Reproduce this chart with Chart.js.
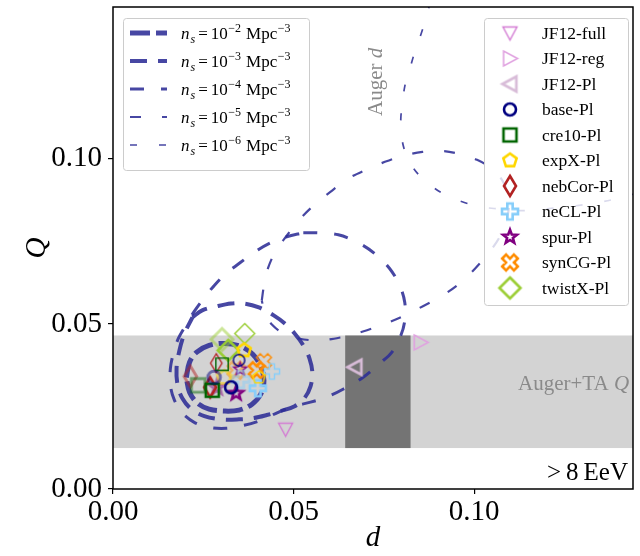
<!DOCTYPE html>
<html>
<head>
<meta charset="utf-8">
<title>d - Q plane</title>
<script src="https://cdn.jsdelivr.net/npm/chart.js@4.4.1/dist/chart.umd.min.js"></script>
<style>
  html, body { margin: 0; padding: 0; background: #fff; }
  #wrap { width: 640px; height: 556px; }
</style>
</head>
<body>
<div id="wrap"><canvas id="chart" width="640" height="556"></canvas></div>
<script>
// axis ranges and ticks
const dLim = [0, 0.144];
const qLim = [0, 0.146];
const dTicks = [0, 0.05, 0.10];
const qTicks = [0, 0.05, 0.10];

// measured bands
const augerTaQ = [0.0124, 0.0465];
const augerD = [0.0643, 0.0824];

// contours, one pair per source density (exponent of n_s)
const nsExp = [-2, -3, -4, -5, -6];
const ns2_d = [0.0203,0.0212,0.0231,0.0266,0.0310,0.0354,0.0387,0.0409,0.0418,0.0409,0.0385,0.0349,0.0310,0.0266,0.0234,0.0212,0.0203];
const ns2_q = [0.0338,0.0384,0.0414,0.0435,0.0441,0.0432,0.0408,0.0372,0.0329,0.0287,0.0257,0.0239,0.0236,0.0242,0.0260,0.0293,0.0338];
const ns3_d = [0.0220,0.0247,0.0286,0.0327,0.0363,0.0404,0.0445,0.0475,0.0503,0.0527,0.0544,0.0552,0.0547,0.0530,0.0503,0.0464,0.0426,0.0390,0.0349,0.0299,0.0253,0.0217,0.0192,0.0179,0.0176,0.0184,0.0198,0.0220];
const ns3_q = [0.0520,0.0541,0.0553,0.0562,0.0562,0.0550,0.0526,0.0502,0.0471,0.0435,0.0396,0.0353,0.0311,0.0275,0.0251,0.0236,0.0224,0.0215,0.0211,0.0211,0.0221,0.0242,0.0275,0.0314,0.0366,0.0420,0.0471,0.0520];
const ns4_d = [0.0527,0.0569,0.0624,0.0679,0.0725,0.0766,0.0794,0.0808,0.0808,0.0797,0.0772,0.0739,0.0692,0.0637,0.0591,0.0547,0.0503,0.0459,0.0409,0.0363,0.0313,0.0266,0.0225,0.0192,0.0170,0.0159,0.0159,0.0168,0.0181,0.0201,0.0225,0.0253,0.0280,0.0310,0.0349,0.0390,0.0437,0.0481,0.0527];
const ns4_q = [0.0776,0.0776,0.0770,0.0746,0.0713,0.0668,0.0616,0.0565,0.0511,0.0465,0.0414,0.0381,0.0338,0.0302,0.0278,0.0263,0.0251,0.0233,0.0208,0.0193,0.0184,0.0187,0.0202,0.0230,0.0269,0.0314,0.0366,0.0414,0.0456,0.0495,0.0538,0.0580,0.0616,0.0650,0.0683,0.0716,0.0746,0.0764,0.0776];
const ns5_d = [0.0412,0.0418,0.0429,0.0451,0.0481,0.0514,0.0555,0.0602,0.0651,0.0701,0.0753,0.0802,0.0857,0.0912,0.0959,0.1008,0.1049,0.1080,0.1096,0.1091,0.1071,0.1041,0.1003,0.0959,0.0912,0.0857,0.0802,0.0747,0.0692,0.0629,0.0569,0.0514,0.0473,0.0440,0.0420,0.0412];
const ns5_q = [0.0571,0.0616,0.0668,0.0722,0.0767,0.0813,0.0858,0.0900,0.0940,0.0967,0.0991,0.1009,0.1021,0.1024,0.1015,0.0997,0.0970,0.0931,0.0879,0.0819,0.0764,0.0716,0.0668,0.0622,0.0586,0.0553,0.0523,0.0498,0.0477,0.0459,0.0450,0.0456,0.0471,0.0498,0.0535,0.0571];
const ns6_d = [0.0879,0.0868,0.0854,0.0838,0.0824,0.0810,0.0802,0.0797,0.0799,0.0808,0.0824,0.0849,0.0885,0.0926,0.0967,0.1016,0.1063,0.1118,0.1173,0.1228,0.1283,0.1338,0.1393,0.1475];
const ns6_q = [0.1477,0.1432,0.1381,0.1332,0.1281,0.1230,0.1175,0.1121,0.1069,0.1024,0.0985,0.0949,0.0915,0.0888,0.0870,0.0855,0.0849,0.0843,0.0846,0.0852,0.0858,0.0867,0.0879,0.0903];

// JF12 models (one point each)
const jf12Names = ['JF12-full', 'JF12-reg', 'JF12-Pl'];
const jf12D = [0.0478, 0.0852, 0.0670];
const jf12Q = [0.0181, 0.0444, 0.0369];

// Pl models, three variants each
const plNames = ['base-Pl', 'cre10-Pl', 'expX-Pl', 'nebCor-Pl', 'neCL-Pl', 'spur-Pl', 'synCG-Pl', 'twistX-Pl'];
const plD_a = [0.0327, 0.0275, 0.0363, 0.0269, 0.0401, 0.0341, 0.0398, 0.0319];
const plQ_a = [0.0308, 0.0299, 0.0420, 0.0308, 0.0305, 0.0290, 0.0360, 0.0420];
const plD_b = [0.0349, 0.0302, 0.0404, 0.0286, 0.0440, 0.0352, 0.0418, 0.0365];
const plQ_b = [0.0390, 0.0378, 0.0338, 0.0381, 0.0356, 0.0363, 0.0387, 0.0471];
const plD_c = [0.0280, 0.0236, 0.0308, 0.0214, 0.0354, 0.0288, 0.0341, 0.0302];
const plQ_c = [0.0338, 0.0314, 0.0338, 0.0341, 0.0332, 0.0308, 0.0360, 0.0453];

// styles
const SERIF = '"Liberation Serif", "DejaVu Serif", serif';
const lineColor = 'rgba(45,45,150,0.88)';
const nsWidth = [5, 4, 3, 2.2, 1.7];
const nsDash = [[20, 6], [17, 11], [14, 17], [11, 21], [7, 22]];
const jf12Style = [['triDown', '#d37bd3', 7, 1.4], ['triRight', '#e0a2e0', 7.5, 1.6], ['triLeft', '#d8bcd8', 7.5, 2.7]];
const plStyle = [
  ['circle', '#000080', 6], ['square', '#006400', 6.5], ['pentagon', '#ffd700', 7], ['thinDiamond', '#b22222', 10],
  ['plus', '#87cefa', 8], ['star', '#800080', 7.2], ['xfill', '#ff8c00', 8.3], ['diamond', '#9acd32', 10.5]
];

function zip(xs, ys) { return xs.map((x, i) => ({ x: x, y: ys[i] })); }

function shapePath(g, shape, r) {
  let pts = [];
  if (shape === 'circle') { g.arc(0, 0, r, 0, Math.PI * 2); return; }
  if (shape === 'triDown') pts = [[0, r], [-r, -r * 0.85], [r, -r * 0.85]];
  if (shape === 'triRight') pts = [[r, 0], [-r * 0.85, -r], [-r * 0.85, r]];
  if (shape === 'triLeft') pts = [[-r, 0], [r * 0.85, -r], [r * 0.85, r]];
  if (shape === 'square') pts = [[-r, -r], [r, -r], [r, r], [-r, r]];
  if (shape === 'diamond') pts = [[0, -r], [r, 0], [0, r], [-r, 0]];
  if (shape === 'thinDiamond') pts = [[0, -r], [r * 0.6, 0], [0, r], [-r * 0.6, 0]];
  if (shape === 'pentagon') {
    for (let k = 0; k < 5; k++) { const a = -Math.PI / 2 + k * 2 * Math.PI / 5; pts.push([r * Math.cos(a), r * Math.sin(a)]); }
  }
  if (shape === 'star') {
    for (let k = 0; k < 10; k++) { const a = -Math.PI / 2 + k * Math.PI / 5; const rr = k % 2 ? r * 0.42 : r; pts.push([rr * Math.cos(a), rr * Math.sin(a)]); }
  }
  if (shape === 'plus' || shape === 'xfill') {
    const w = r / 3;
    const base = [[-w, -r], [w, -r], [w, -w], [r, -w], [r, w], [w, w], [w, r], [-w, r], [-w, w], [-r, w], [-r, -w], [-w, -w]];
    const rot = shape === 'xfill' ? Math.PI / 4 : 0;
    pts = base.map(p => [p[0] * Math.cos(rot) - p[1] * Math.sin(rot), p[0] * Math.sin(rot) + p[1] * Math.cos(rot)]);
  }
  g.moveTo(pts[0][0], pts[0][1]);
  for (let k = 1; k < pts.length; k++) g.lineTo(pts[k][0], pts[k][1]);
  g.closePath();
}

function marker(shape, color, r, lw, alpha) {
  const s = Math.ceil(2 * r + 2 * lw + 6);
  const c = document.createElement('canvas');
  c.width = s; c.height = s;
  const g = c.getContext('2d');
  g.translate(s / 2, s / 2);
  g.globalAlpha = alpha;
  g.strokeStyle = color;
  g.lineWidth = lw;
  g.lineJoin = 'miter';
  g.beginPath();
  shapePath(g, shape, r);
  g.stroke();
  return c;
}

const contours = [[ns2_d, ns2_q], [ns3_d, ns3_q], [ns4_d, ns4_q], [ns5_d, ns5_q], [ns6_d, ns6_q]];
const datasets = [];
const legendMarkers = [];

jf12Names.forEach((name, i) => {
  const st = jf12Style[i];
  const img = marker(st[0], st[1], st[2], st[3], 1);
  legendMarkers.push([name, img]);
  datasets.push({ label: name, data: [{ x: jf12D[i], y: jf12Q[i] }], pointStyle: img, pointRadius: 6, order: 1 });
});

plNames.forEach((name, i) => {
  const st = plStyle[i];
  const a = marker(st[0], st[1], st[2], 2.6, 1);
  const b = marker(st[0], st[1], st[2] * 0.95, 1.4, 1);
  const c = marker(st[0], st[1], st[2] * 1.05, 2.9, 0.5);
  legendMarkers.push([name, a]);
  datasets.push({
    label: name,
    data: [{ x: plD_a[i], y: plQ_a[i] }, { x: plD_b[i], y: plQ_b[i] }, { x: plD_c[i], y: plQ_c[i] }],
    pointStyle: [a, b, c], pointRadius: 6, order: 1
  });
});

contours.forEach((c, i) => {
  datasets.push({
    label: 'ns' + nsExp[i], data: zip(c[0], c[1]), showLine: true, pointRadius: 0,
    borderColor: lineColor, borderWidth: nsWidth[i], borderDash: nsDash[i], tension: 0.35, fill: false, order: 10
  });
});

function drawNs(ctx, x, y, e) {
  const parts = [
    ['n', 'italic 17px ' + SERIF, 0, 0], ['s', 'italic 12px ' + SERIF, 4, 1], ['=', '17px ' + SERIF, 0, 3], ['10', '17px ' + SERIF, 0, 3],
    ['\u2212' + (-e), '12px ' + SERIF, -7, 0.5], ['Mpc', '17px ' + SERIF, 0, 5], ['\u22123', '12px ' + SERIF, -7, 0.5]
  ];
  let cx = x;
  parts.forEach(p => {
    ctx.font = p[1];
    cx += p[3];
    ctx.fillText(p[0], cx, y + p[2]);
    cx += ctx.measureText(p[0]).width;
  });
}

const decor = {
  id: 'decor',
  beforeDatasetsDraw(chart) {
    const { ctx, chartArea: a, scales: { x, y } } = chart;
    ctx.save();
    const y0 = y.getPixelForValue(augerTaQ[1]), y1 = y.getPixelForValue(augerTaQ[0]);
    ctx.fillStyle = '#d3d3d3';
    ctx.fillRect(a.left, y0, a.right - a.left, y1 - y0);
    const x0 = x.getPixelForValue(augerD[0]), x1 = x.getPixelForValue(augerD[1]);
    ctx.fillStyle = '#747474';
    ctx.fillRect(x0, y0, x1 - x0, y1 - y0);
    // band labels
    ctx.fillStyle = '#8a8a8a';
    ctx.textBaseline = 'alphabetic';
    ctx.font = '21px ' + SERIF;
    ctx.textAlign = 'left';
    ctx.fillText('Auger+TA ', 518, 390);
    const w = ctx.measureText('Auger+TA ').width;
    ctx.font = 'italic 21px ' + SERIF;
    ctx.fillText('Q', 518 + w, 390);
    ctx.translate(382, 116);
    ctx.rotate(-Math.PI / 2);
    ctx.font = '21px ' + SERIF;
    ctx.fillText('Auger ', 0, 0);
    const w2 = ctx.measureText('Auger ').width;
    ctx.font = 'italic 21px ' + SERIF;
    ctx.fillText('d', w2, 0);
    ctx.restore();
  },
  afterDatasetsDraw(chart) {
    const { ctx, chartArea: a } = chart;
    ctx.save();
    ctx.strokeStyle = '#000';
    ctx.lineWidth = 1.5;
    ctx.strokeRect(a.left, a.top, a.right - a.left, a.bottom - a.top);
    ctx.fillStyle = '#000';
    ctx.font = '25px ' + SERIF;
    ctx.textAlign = 'right';
    ctx.textBaseline = 'alphabetic';
    ctx.fillText('>\u20098\u2009EeV', 628, 480);
    ctx.restore();
  },
  afterDraw(chart) {
    const ctx = chart.ctx;
    ctx.save();
    // density legend
    ctx.fillStyle = 'rgba(255,255,255,0.8)';
    ctx.strokeStyle = '#cccccc';
    ctx.lineWidth = 1;
    ctx.beginPath(); ctx.roundRect(123.5, 18.5, 186, 152, 3); ctx.fill(); ctx.stroke();
    nsExp.forEach((e, i) => {
      const yy = 33 + i * 28;
      ctx.strokeStyle = lineColor;
      ctx.lineWidth = nsWidth[i];
      ctx.setLineDash(nsDash[i]);
      ctx.beginPath(); ctx.moveTo(130, yy); ctx.lineTo(167, yy); ctx.stroke();
      ctx.setLineDash([]);
      ctx.fillStyle = '#000';
      ctx.textAlign = 'left';
      ctx.textBaseline = 'alphabetic';
      drawNs(ctx, 181, yy + 6, e);
    });
    // model legend
    ctx.fillStyle = 'rgba(255,255,255,0.8)';
    ctx.strokeStyle = '#cccccc';
    ctx.lineWidth = 1;
    ctx.beginPath(); ctx.roundRect(484.5, 18.5, 144, 287, 3); ctx.fill(); ctx.stroke();
    legendMarkers.forEach((m, i) => {
      const yy = 33 + i * 25.5;
      ctx.drawImage(m[1], 510 - m[1].width / 2, yy - m[1].height / 2);
      ctx.fillStyle = '#000';
      ctx.font = '17.5px ' + SERIF;
      ctx.textAlign = 'left';
      ctx.textBaseline = 'middle';
      ctx.fillText(m[0], 542, yy + 1);
    });
    ctx.restore();
  }
};

const tickFont = { family: SERIF, size: 29 };

new Chart(document.getElementById('chart'), {
  type: 'scatter',
  data: { datasets: datasets },
  options: {
    responsive: false,
    animation: false,
    events: [],
    layout: { padding: { top: 5, right: 3, left: 0, bottom: 0 } },
    plugins: { legend: { display: false }, tooltip: { enabled: false } },
    scales: {
      x: {
        type: 'linear', min: dLim[0], max: dLim[1],
        afterBuildTicks: s => { s.ticks = dTicks.map(v => ({ value: v })); },
        afterFit: s => { s.height = 67; s.paddingLeft = 0; s.paddingRight = 0; },
        ticks: { font: tickFont, color: '#000', padding: 1, maxRotation: 0, callback: v => v.toFixed(2) },
        grid: { drawOnChartArea: false, drawTicks: true, tickLength: 5, color: '#000', lineWidth: 1.2 },
        border: { display: false },
        title: { display: true, text: 'd', color: '#000', font: { family: SERIF, size: 29, style: 'italic' }, padding: { top: 0, bottom: 0 } }
      },
      y: {
        type: 'linear', min: qLim[0], max: qLim[1],
        afterBuildTicks: s => { s.ticks = qTicks.map(v => ({ value: v })); },
        afterFit: s => { s.width = 113; s.paddingTop = 0; s.paddingBottom = 0; },
        ticks: { font: tickFont, color: '#000', padding: 6, callback: v => v.toFixed(2) },
        grid: { drawOnChartArea: false, drawTicks: true, tickLength: 5, color: '#000', lineWidth: 1.2 },
        border: { display: false },
        title: { display: true, text: 'Q', color: '#000', font: { family: SERIF, size: 29, style: 'italic' }, padding: { top: 20, bottom: 0 } }
      }
    }
  },
  plugins: [decor]
});
</script>
</body>
</html>
